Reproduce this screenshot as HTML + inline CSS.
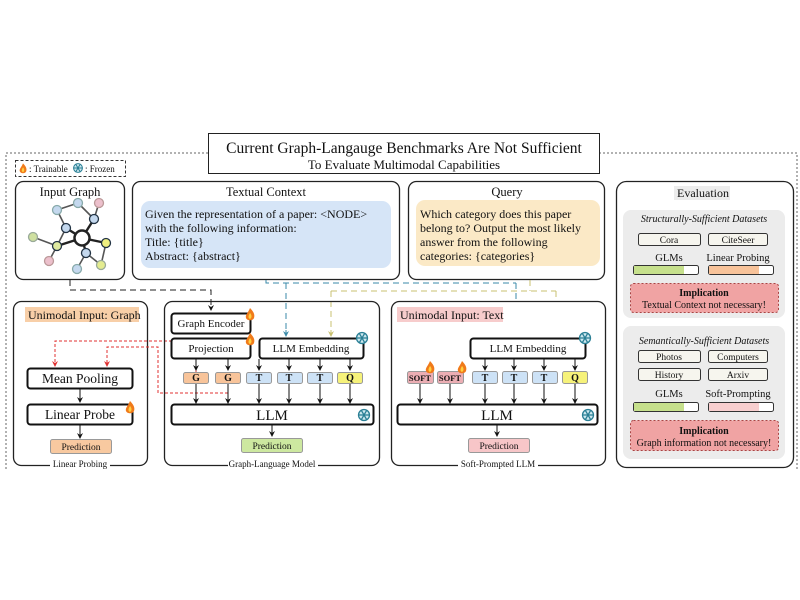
<!DOCTYPE html>
<html><head><meta charset="utf-8"><style>
html,body{margin:0;padding:0;background:#fff}
svg{display:block}
text{font-family:"Liberation Serif",serif;fill:#111}
</style></head><body>
<svg width="800" height="600" viewBox="0 0 800 600" xmlns="http://www.w3.org/2000/svg">
<defs>
<marker id="ab" markerWidth="6" markerHeight="6" refX="5" refY="3" orient="auto"><path d="M0,0 L6,3 L0,6 L2,3 z" fill="#111"/></marker>
<marker id="ar" markerWidth="6" markerHeight="6" refX="5" refY="3" orient="auto"><path d="M0,0 L6,3 L0,6 L2,3 z" fill="#e03030"/></marker>
<marker id="abl" markerWidth="6" markerHeight="6" refX="5" refY="3" orient="auto"><path d="M0,0 L6,3 L0,6 L2,3 z" fill="#3a8aa8"/></marker>
<marker id="ay" markerWidth="6" markerHeight="6" refX="5" refY="3" orient="auto"><path d="M0,0 L6,3 L0,6 L2,3 z" fill="#c8c070"/></marker>
<g id="fire"><path d="M0,-7 C4,-3 5,0 4,3 C3,6 -3,6 -4,3 C-5,0 -2,-2 0,-7z" fill="#f07a1a"/><path d="M0,-2 C2,0 2,3 0,4 C-2,3 -2,1 0,-2z" fill="#ffd040"/></g>
<g id="snow" stroke="#2a7f95" stroke-width="1.3" fill="none"><circle r="5.5" fill="#cde8ef"/><path d="M-6,0H6M-3,-5.2L3,5.2M-3,5.2L3,-5.2"/></g>
</defs>

<!-- outer dotted border -->
<path d="M208,153 H6 V470 M599,153 H797 V470" fill="none" stroke="#666" stroke-width="1" stroke-dasharray="2,2"/>
<!-- title -->
<rect x="208.5" y="133.5" width="391" height="40" fill="#fff" stroke="#222"/>
<text x="404" y="153" font-size="15.5" text-anchor="middle">Current Graph-Langauge Benchmarks Are Not Sufficient</text>
<text x="404" y="169" font-size="13" text-anchor="middle">To Evaluate Multimodal Capabilities</text>

<!-- legend -->
<rect x="15.5" y="160.5" width="110" height="16" fill="#fff" stroke="#333" stroke-dasharray="3,2"/>
<use href="#fire" transform="translate(23,169) scale(0.8)"/>
<text x="29" y="172" font-size="9">: Trainable</text>
<use href="#snow" transform="translate(78,168) scale(0.8)"/>
<text x="85" y="172" font-size="9">: Frozen</text>

<!-- Input graph -->
<rect x="15.5" y="181.5" width="109" height="98" rx="8" fill="#fff" stroke="#222" stroke-width="1.3"/>
<text x="70" y="196" font-size="12.5" text-anchor="middle">Input Graph</text>
<g stroke="#555" stroke-width="1.6">
<line x1="57" y1="210" x2="78" y2="203"/><line x1="78" y1="203" x2="94" y2="219"/><line x1="99" y1="203" x2="94" y2="219"/>
<line x1="94" y1="219" x2="82" y2="238" stroke="#222" stroke-width="2.4"/><line x1="57" y1="210" x2="66" y2="228"/>
<line x1="66" y1="228" x2="82" y2="238" stroke="#222" stroke-width="2.4"/><line x1="66" y1="228" x2="57" y2="246"/>
<line x1="57" y1="246" x2="82" y2="238" stroke="#222" stroke-width="2.4"/><line x1="33" y1="237" x2="57" y2="246"/>
<line x1="57" y1="246" x2="49" y2="261"/><line x1="82" y1="238" x2="106" y2="243" stroke="#222" stroke-width="2.4"/>
<line x1="82" y1="238" x2="86" y2="253" stroke="#222" stroke-width="2.4"/><line x1="86" y1="253" x2="77" y2="269"/>
<line x1="86" y1="253" x2="101" y2="265"/><line x1="106" y1="243" x2="101" y2="265"/>
</g>
<g stroke-width="1.3">
<circle cx="82" cy="238" r="7.5" fill="#fff" stroke="#222" stroke-width="2.5"/>
<circle cx="78" cy="203" r="4.5" fill="#c4d8ee" stroke="#8aa"/>
<circle cx="57" cy="210" r="4.5" fill="#c4d8ee" stroke="#8aa"/>
<circle cx="99" cy="203" r="4.5" fill="#ecc0cc" stroke="#b99"/>
<circle cx="94" cy="219" r="4.5" fill="#c4d8ee" stroke="#234"/>
<circle cx="66" cy="228" r="4.5" fill="#c4d8ee" stroke="#234"/>
<circle cx="57" cy="246" r="4.5" fill="#dfeaa0" stroke="#234"/>
<circle cx="33" cy="237" r="4.5" fill="#cfe0a0" stroke="#9a9"/>
<circle cx="106" cy="243" r="4.5" fill="#f0f080" stroke="#234"/>
<circle cx="86" cy="253" r="4.5" fill="#c4d8ee" stroke="#234"/>
<circle cx="49" cy="261" r="4.5" fill="#ecc0cc" stroke="#b99"/>
<circle cx="77" cy="269" r="4.5" fill="#c4d8ee" stroke="#8aa"/>
<circle cx="101" cy="265" r="4.5" fill="#e4ec90" stroke="#9a9"/>
</g>

<!-- Textual context -->
<rect x="132.5" y="181.5" width="267" height="98" rx="8" fill="#fff" stroke="#222" stroke-width="1.3"/>
<text x="266" y="196" font-size="12.5" text-anchor="middle">Textual Context</text>
<rect x="141" y="201" width="250" height="67" rx="9" fill="#d6e5f7"/>
<g font-size="12"><text x="145" y="218">Given the representation of a paper:  &lt;NODE&gt;</text>
<text x="145" y="232">with the following information:</text>
<text x="145" y="246">Title: {title}</text>
<text x="145" y="260">Abstract: {abstract}</text></g>

<!-- Query -->
<rect x="408.5" y="181.5" width="196" height="98" rx="8" fill="#fff" stroke="#222" stroke-width="1.3"/>
<text x="507" y="196" font-size="12.5" text-anchor="middle">Query</text>
<rect x="416" y="200" width="184" height="66" rx="9" fill="#fbe9c6"/>
<g font-size="12"><text x="420" y="218">Which category does this paper</text>
<text x="420" y="232">belong to? Output the most likely</text>
<text x="420" y="246">answer from the following</text>
<text x="420" y="260">categories: {categories}</text></g>

<!-- connectors -->
<path d="M70,280 V290 H211 V310" fill="none" stroke="#222" stroke-dasharray="6,4" marker-end="url(#ab)"/>
<path d="M266,280 V283 H516 M286,283 V335 M516,283 V335" fill="none" stroke="#3a8aa8" stroke-dasharray="6,4"/>
<path d="M286,330 V336" stroke="#3a8aa8" marker-end="url(#abl)"/><path d="M516,330 V336" stroke="#3a8aa8" marker-end="url(#abl)"/>
<path d="M530,280 V291 M331,291 H556 M331,291 V335 M556,291 V335" fill="none" stroke="#c8c070" stroke-dasharray="6,4"/>
<path d="M331,330 V336" stroke="#c8c070" marker-end="url(#ay)"/><path d="M556,330 V336" stroke="#c8c070" marker-end="url(#ay)"/>

<!-- Linear probing -->
<rect x="13.5" y="301.5" width="134" height="164" rx="8" fill="#fff" stroke="#222" stroke-width="1.3"/>
<rect x="25" y="307" width="114" height="15" fill="#f8cfa8"/>
<text x="28" y="319" font-size="12">Unimodal Input: Graph</text>
<rect x="27.5" y="368.5" width="105" height="20" rx="3" fill="#fff" stroke="#111" stroke-width="2"/>
<text x="80" y="383" font-size="13.5" text-anchor="middle">Mean Pooling</text>
<rect x="27.5" y="404.5" width="105" height="20" rx="3" fill="#fff" stroke="#111" stroke-width="2"/>
<text x="80" y="419" font-size="13.5" text-anchor="middle">Linear Probe</text>
<use href="#fire" transform="translate(130,408)"/>
<line x1="80" y1="389" x2="80" y2="402" stroke="#111" marker-end="url(#ab)"/>
<line x1="80" y1="425" x2="80" y2="438" stroke="#111" marker-end="url(#ab)"/>
<rect x="50.5" y="439.5" width="61" height="14" rx="2" fill="#f8c9a0" stroke="#999"/>
<text x="81" y="450" font-size="9.5" text-anchor="middle">Prediction</text>
<rect x="50" y="460" width="60" height="10" fill="#fff"/>
<text x="80" y="467" font-size="9" text-anchor="middle">Linear Probing</text>
<path d="M196,392 V341 H55 V366" fill="none" stroke="#e03030" stroke-dasharray="3,2" marker-end="url(#ar)"/>
<path d="M228,393 H158 V347 H107 V366" fill="none" stroke="#e03030" stroke-dasharray="3,2" marker-end="url(#ar)"/>

<!-- GLM -->
<rect x="164.5" y="301.5" width="215" height="164" rx="8" fill="none" stroke="#222" stroke-width="1.3"/>
<rect x="171.5" y="313.5" width="79" height="20" rx="3" fill="#fff" stroke="#111" stroke-width="2"/>
<text x="211" y="327" font-size="11" text-anchor="middle">Graph Encoder</text>
<use href="#fire" transform="translate(250,315)"/>
<rect x="171.5" y="338.5" width="79" height="20" rx="3" fill="#fff" stroke="#111" stroke-width="2"/>
<text x="211" y="352" font-size="11" text-anchor="middle">Projection</text>
<use href="#fire" transform="translate(250,340)"/>
<rect x="259.5" y="338.5" width="104" height="20" rx="3" fill="#fff" stroke="#111" stroke-width="2"/>
<text x="311" y="352" font-size="11" text-anchor="middle">LLM Embedding</text>
<use href="#snow" transform="translate(362,338)"/>
<g stroke="#111">
<line x1="196" y1="359" x2="196" y2="370" marker-end="url(#ab)"/><line x1="228" y1="359" x2="228" y2="370" marker-end="url(#ab)"/>
<line x1="259" y1="359" x2="259" y2="370" marker-end="url(#ab)"/><line x1="289" y1="359" x2="289" y2="370" marker-end="url(#ab)"/>
<line x1="320" y1="359" x2="320" y2="370" marker-end="url(#ab)"/><line x1="350" y1="359" x2="350" y2="370" marker-end="url(#ab)"/>
<line x1="196" y1="383" x2="196" y2="403" marker-end="url(#ab)"/><line x1="228" y1="383" x2="228" y2="403" marker-end="url(#ab)"/>
<line x1="259" y1="383" x2="259" y2="403" marker-end="url(#ab)"/><line x1="289" y1="383" x2="289" y2="403" marker-end="url(#ab)"/>
<line x1="320" y1="383" x2="320" y2="403" marker-end="url(#ab)"/><line x1="350" y1="383" x2="350" y2="403" marker-end="url(#ab)"/>
<line x1="272" y1="425" x2="272" y2="436" marker-end="url(#ab)"/>
</g>
<g font-size="10" font-weight="bold" text-anchor="middle">
<rect x="183.5" y="372.5" width="25" height="11" rx="2" fill="#f8c49a" stroke="#999"/><text x="196" y="381">G</text>
<rect x="215.5" y="372.5" width="25" height="11" rx="2" fill="#f8c49a" stroke="#999"/><text x="228" y="381">G</text>
<rect x="246.5" y="372.5" width="25" height="11" rx="2" fill="#cde2f6" stroke="#999"/><text x="259" y="381">T</text>
<rect x="277.5" y="372.5" width="25" height="11" rx="2" fill="#cde2f6" stroke="#999"/><text x="289" y="381">T</text>
<rect x="307.5" y="372.5" width="25" height="11" rx="2" fill="#cde2f6" stroke="#999"/><text x="320" y="381">T</text>
<rect x="337.5" y="372.5" width="25" height="11" rx="2" fill="#f6f27a" stroke="#999"/><text x="350" y="381">Q</text>
</g>
<rect x="171.5" y="404.5" width="202" height="20" rx="3" fill="#fff" stroke="#111" stroke-width="2"/>
<text x="272" y="420" font-size="15" text-anchor="middle">LLM</text>
<use href="#snow" transform="translate(364,415)"/>
<rect x="241.5" y="438.5" width="61" height="14" rx="2" fill="#cde8a0" stroke="#999"/>
<text x="272" y="449" font-size="9.5" text-anchor="middle">Prediction</text>
<rect x="228" y="460" width="90" height="10" fill="#fff"/>
<text x="272" y="467" font-size="9" text-anchor="middle">Graph-Language Model</text>

<!-- Soft prompted -->
<rect x="391.5" y="301.5" width="214" height="164" rx="8" fill="#fff" stroke="#222" stroke-width="1.3"/>
<rect x="397" y="307" width="106" height="15" fill="#f7cccc"/>
<text x="400" y="319" font-size="12">Unimodal Input: Text</text>
<rect x="470.5" y="338.5" width="115" height="20" rx="3" fill="#fff" stroke="#111" stroke-width="2"/>
<text x="528" y="352" font-size="11" text-anchor="middle">LLM Embedding</text>
<use href="#snow" transform="translate(585,338)"/>
<path d="M286,290 V336" stroke="none"/>
<g stroke="#111">
<line x1="485" y1="359" x2="485" y2="370" marker-end="url(#ab)"/><line x1="514" y1="359" x2="514" y2="370" marker-end="url(#ab)"/>
<line x1="544" y1="359" x2="544" y2="370" marker-end="url(#ab)"/><line x1="575" y1="359" x2="575" y2="370" marker-end="url(#ab)"/>
<line x1="420" y1="384" x2="420" y2="403" marker-end="url(#ab)"/><line x1="450" y1="384" x2="450" y2="403" marker-end="url(#ab)"/>
<line x1="485" y1="384" x2="485" y2="403" marker-end="url(#ab)"/><line x1="514" y1="384" x2="514" y2="403" marker-end="url(#ab)"/>
<line x1="544" y1="384" x2="544" y2="403" marker-end="url(#ab)"/><line x1="575" y1="384" x2="575" y2="403" marker-end="url(#ab)"/>
<line x1="497" y1="425" x2="497" y2="436" marker-end="url(#ab)"/>
</g>
<g font-size="10" font-weight="bold" text-anchor="middle">
<rect x="407.5" y="371.5" width="26" height="12" rx="2" fill="#ecaeb4" stroke="#999"/><text x="420" y="381" font-size="8.5">SOFT</text>
<rect x="437.5" y="371.5" width="26" height="12" rx="2" fill="#ecaeb4" stroke="#999"/><text x="450" y="381" font-size="8.5">SOFT</text>
<rect x="472.5" y="371.5" width="25" height="12" rx="2" fill="#cde2f6" stroke="#999"/><text x="485" y="381">T</text>
<rect x="502.5" y="371.5" width="25" height="12" rx="2" fill="#cde2f6" stroke="#999"/><text x="514" y="381">T</text>
<rect x="532.5" y="371.5" width="25" height="12" rx="2" fill="#cde2f6" stroke="#999"/><text x="544" y="381">T</text>
<rect x="562.5" y="371.5" width="25" height="12" rx="2" fill="#f6f27a" stroke="#999"/><text x="575" y="381">Q</text>
</g>
<use href="#fire" transform="translate(430,368)"/><use href="#fire" transform="translate(462,368)"/>
<rect x="397.5" y="404.5" width="200" height="20" rx="3" fill="#fff" stroke="#111" stroke-width="2"/>
<text x="497" y="420" font-size="15" text-anchor="middle">LLM</text>
<use href="#snow" transform="translate(588,415)"/>
<rect x="468.5" y="438.5" width="61" height="14" rx="2" fill="#f7c6c8" stroke="#999"/>
<text x="499" y="449" font-size="9.5" text-anchor="middle">Prediction</text>
<rect x="458" y="460" width="80" height="10" fill="#fff"/>
<text x="498" y="467" font-size="9" text-anchor="middle">Soft-Prompted LLM</text>

<!-- Evaluation -->
<rect x="616.5" y="181.5" width="177" height="286" rx="10" fill="#fff" stroke="#222" stroke-width="1.3"/>
<rect x="674" y="186" width="56" height="14" fill="#ececec"/>
<text x="703" y="197" font-size="12" text-anchor="middle">Evaluation</text>
<rect x="623" y="210" width="162" height="108" rx="8" fill="#ececec"/>
<text x="704" y="222" font-size="10" font-style="italic" text-anchor="middle">Structurally-Sufficient Datasets</text>
<rect x="638.5" y="233.5" width="62" height="12" rx="2" fill="#f6f5ee" stroke="#333"/><text x="669" y="243" font-size="9.5" text-anchor="middle">Cora</text>
<rect x="708.5" y="233.5" width="59" height="12" rx="2" fill="#f6f5ee" stroke="#333"/><text x="738" y="243" font-size="9.5" text-anchor="middle">CiteSeer</text>
<text x="669" y="261" font-size="10.5" text-anchor="middle">GLMs</text>
<text x="738" y="261" font-size="10.5" text-anchor="middle">Linear Probing</text>
<rect x="633.5" y="265.5" width="65" height="9" rx="2" fill="#fff" stroke="#333"/><rect x="634" y="266" width="50" height="8" fill="#c6e08c"/>
<rect x="708.5" y="265.5" width="65" height="9" rx="2" fill="#fff" stroke="#333"/><rect x="709" y="266" width="50" height="8" fill="#f8c39a"/>
<rect x="630.5" y="283.5" width="148" height="29" rx="3" fill="#f0a3a3" stroke="#a44" stroke-dasharray="2,2"/>
<text x="704" y="296" font-size="10" font-weight="bold" text-anchor="middle">Implication</text>
<text x="704" y="308" font-size="10" text-anchor="middle">Textual Context not necessary!</text>

<rect x="623" y="326" width="162" height="133" rx="8" fill="#ececec"/>
<text x="704" y="344" font-size="10" font-style="italic" text-anchor="middle">Semantically-Sufficient Datasets</text>
<rect x="638.5" y="350.5" width="62" height="12" rx="2" fill="#f6f5ee" stroke="#333"/><text x="669" y="360" font-size="9.5" text-anchor="middle">Photos</text>
<rect x="708.5" y="350.5" width="59" height="12" rx="2" fill="#f6f5ee" stroke="#333"/><text x="738" y="360" font-size="9.5" text-anchor="middle">Computers</text>
<rect x="638.5" y="368.5" width="62" height="12" rx="2" fill="#f6f5ee" stroke="#333"/><text x="669" y="378" font-size="9.5" text-anchor="middle">History</text>
<rect x="708.5" y="368.5" width="59" height="12" rx="2" fill="#f6f5ee" stroke="#333"/><text x="738" y="378" font-size="9.5" text-anchor="middle">Arxiv</text>
<text x="669" y="397" font-size="10.5" text-anchor="middle">GLMs</text>
<text x="738" y="397" font-size="10.5" text-anchor="middle">Soft-Prompting</text>
<rect x="633.5" y="402.5" width="65" height="9" rx="2" fill="#fff" stroke="#333"/><rect x="634" y="403" width="50" height="8" fill="#c6e08c"/>
<rect x="708.5" y="402.5" width="65" height="9" rx="2" fill="#fff" stroke="#333"/><rect x="709" y="403" width="50" height="8" fill="#f8cfcf"/>
<rect x="630.5" y="420.5" width="148" height="30" rx="3" fill="#f0a3a3" stroke="#a44" stroke-dasharray="2,2"/>
<text x="704" y="434" font-size="10" font-weight="bold" text-anchor="middle">Implication</text>
<text x="704" y="446" font-size="10" text-anchor="middle">Graph information not necessary!</text>
</svg>
</body></html>
